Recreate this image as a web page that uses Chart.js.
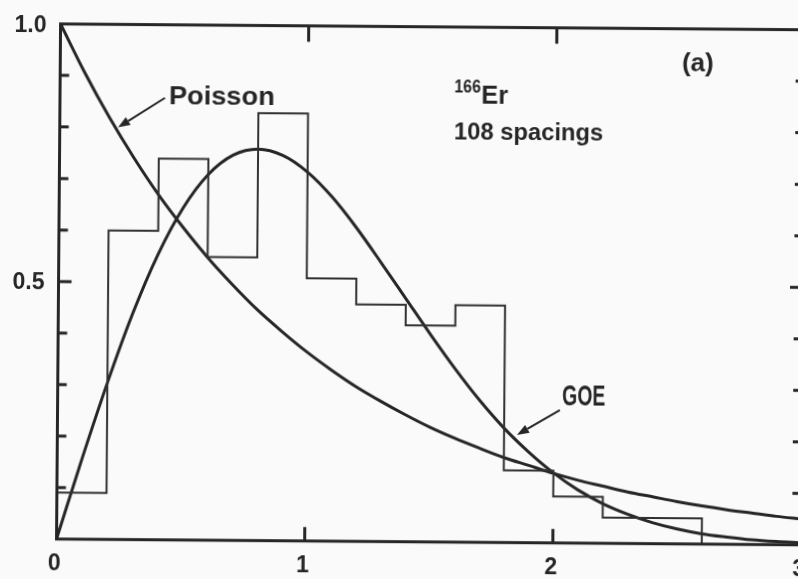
<!DOCTYPE html>
<html>
<head>
<meta charset="utf-8">
<script src="https://cdn.jsdelivr.net/npm/chart.js@4/dist/chart.umd.min.js"></script>
<style>
  html, body { margin: 0; padding: 0; background: #fafafa; width: 798px; height: 579px; overflow: hidden; }
  #wrap { position: absolute; left: 0; top: 0; width: 840px; height: 600px;
          transform: rotate(0.45deg); transform-origin: 399px 289.5px; filter: blur(0.4px); }
  canvas { display: block; }
</style>
</head>
<body>
<div id="wrap"><canvas id="c" width="840" height="600"></canvas></div>
<script>
// Nearest-neighbour spacing distribution, 166Er, 108 spacings
const binLeft   = [0, 0.2, 0.4, 0.6, 0.8, 1.0, 1.2, 1.4, 1.6, 1.8, 2.0, 2.2, 2.4];
const binWidth  = 0.2;
const binHeight = [0.09, 0.60, 0.74, 0.55, 0.83, 0.51, 0.46, 0.42, 0.46, 0.14, 0.09, 0.05, 0.05];

// Reference curves sampled along s
const sGrid = [0, 0.1, 0.2, 0.3, 0.4, 0.5, 0.6, 0.7, 0.8, 0.9, 1.0, 1.1, 1.2, 1.3, 1.4, 1.5,
               1.6, 1.7, 1.8, 1.9, 2.0, 2.1, 2.2, 2.3, 2.4, 2.5, 2.6, 2.7, 2.8, 2.9, 3.0];
const poisson = [1.000, 0.905, 0.819, 0.741, 0.670, 0.607, 0.549, 0.497, 0.449, 0.407, 0.368,
                 0.333, 0.301, 0.273, 0.247, 0.223, 0.202, 0.183, 0.165, 0.150, 0.135,
                 0.122, 0.111, 0.100, 0.091, 0.082, 0.074, 0.067, 0.061, 0.055, 0.050];
const goe = [0.000, 0.156, 0.304, 0.439, 0.554, 0.645, 0.710, 0.748, 0.760, 0.748, 0.716,
             0.668, 0.608, 0.541, 0.472, 0.403, 0.337, 0.276, 0.222, 0.176, 0.136,
             0.103, 0.077, 0.057, 0.041, 0.029, 0.020, 0.014, 0.009, 0.006, 0.004];

// Axis ticks and labels
const xTicks = [1, 2];
const xLabels = [0, 1, 2, 3];
const yTicks = [0.1, 0.2, 0.3, 0.4, 0.5, 0.6, 0.7, 0.8, 0.9];
const yLabels = [0.5, 1.0];

// Histogram outline: each bin's top runs from its left edge, then drop to zero at the end
const histPoints = binLeft.map((x, i) => ({ x: x, y: binHeight[i] }));
histPoints.push({ x: binLeft[binLeft.length - 1] + binWidth, y: binHeight[binHeight.length - 1] });
histPoints.push({ x: binLeft[binLeft.length - 1] + binWidth, y: 0 });

const poissonPoints = sGrid.map((s, i) => ({ x: s, y: poisson[i] }));
const goePoints = sGrid.map((s, i) => ({ x: s, y: goe[i] }));

const INK = '#262626';
const FONT = '"Liberation Sans", Arial, sans-serif';

// Text annotations in data units: left edge, baseline, cap height and ink width in px
const notes = [
  { text: 'Poisson',      s: 0.443, v: 0.845, cap: 18.5, w: 104 },
  { text: '166',          s: 1.592, v: 0.874, cap: 12.5, w: 26 },
  { text: 'Er',           s: 1.702, v: 0.851, cap: 18,   w: 26 },
  { text: '108 spacings', s: 1.593, v: 0.782, cap: 17,   w: 148 },
  { text: '(a)',          s: 2.509, v: 0.917, cap: 19,   w: 30 },
  { text: 'GOE',          s: 2.036, v: 0.268, cap: 21,   w: 42 }
];
// Arrows: from (s0, v0) to tip (s1, v1)
const arrows = [
  { s0: 0.423, v0: 0.858, s1: 0.235, v1: 0.800 },
  { s0: 2.024, v0: 0.258, s1: 1.852, v1: 0.209 }
];

function fitText(ctx, txt, x, baseline, cap, inkW) {
  const size = cap / 0.716;
  ctx.font = 'bold ' + size.toFixed(2) + 'px ' + FONT;
  ctx.textAlign = 'left';
  ctx.textBaseline = 'alphabetic';
  const m = ctx.measureText(txt);
  const w = m.actualBoundingBoxLeft + m.actualBoundingBoxRight;
  const sx = inkW ? inkW / w : 1;
  ctx.save();
  ctx.translate(x, baseline);
  ctx.scale(sx, 1);
  ctx.fillText(txt, m.actualBoundingBoxLeft, 0);
  ctx.restore();
}

const framePlugin = {
  id: 'frame',
  afterDatasetsDraw(chart) {
    const ctx = chart.ctx;
    const a = chart.chartArea;
    const xs = chart.scales.x, ys = chart.scales.y;
    ctx.save();
    ctx.strokeStyle = INK;
    ctx.fillStyle = INK;
    ctx.lineWidth = 3;
    ctx.lineCap = 'butt';
    ctx.strokeRect(a.left, a.top, a.right - a.left, a.bottom - a.top);

    // inward ticks
    ctx.beginPath();
    xTicks.forEach(t => {
      const px = xs.getPixelForValue(t);
      ctx.moveTo(px, a.bottom); ctx.lineTo(px, a.bottom - 14);
      ctx.moveTo(px, a.top);    ctx.lineTo(px, a.top + 16);
    });
    yTicks.forEach(t => {
      const py = ys.getPixelForValue(t);
      const len = Math.abs(t - 0.5) < 1e-6 ? 13 : 9;
      ctx.moveTo(a.left, py);  ctx.lineTo(a.left + len, py);
      ctx.moveTo(a.right, py); ctx.lineTo(a.right - len, py);
    });
    ctx.stroke();

    // tick labels
    ctx.font = 'bold 23px ' + FONT;
    ctx.textBaseline = 'alphabetic';
    const capH = 23 * 0.716;
    ctx.textAlign = 'right';
    yLabels.forEach(t => {
      const py = ys.getPixelForValue(t);
      ctx.fillText(t.toFixed(1), a.left - 14, py + capH / 2);
    });
    ctx.textAlign = 'center';
    xLabels.forEach(t => {
      const px = xs.getPixelForValue(t);
      ctx.fillText(String(t), px - 2, a.bottom + 15 + capH);
    });

    // annotations
    notes.forEach(n => {
      fitText(ctx, n.text, xs.getPixelForValue(n.s), ys.getPixelForValue(n.v), n.cap, n.w);
    });

    // arrows
    arrows.forEach(r => {
      const x0 = xs.getPixelForValue(r.s0), y0 = ys.getPixelForValue(r.v0);
      const x1 = xs.getPixelForValue(r.s1), y1 = ys.getPixelForValue(r.v1);
      const ang = Math.atan2(y1 - y0, x1 - x0);
      const hl = 12, hw = 4.5;
      const bx = x1 - hl * Math.cos(ang), by = y1 - hl * Math.sin(ang);
      ctx.lineWidth = 2;
      ctx.beginPath();
      ctx.moveTo(x0, y0); ctx.lineTo(bx, by);
      ctx.stroke();
      ctx.beginPath();
      ctx.moveTo(x1, y1);
      ctx.lineTo(bx + hw * Math.sin(ang), by - hw * Math.cos(ang));
      ctx.lineTo(bx - hw * Math.sin(ang), by + hw * Math.cos(ang));
      ctx.closePath();
      ctx.fill();
    });
    ctx.restore();
  }
};

new Chart(document.getElementById('c'), {
  type: 'line',
  data: {
    datasets: [
      { label: 'Er166', data: histPoints, stepped: 'before', borderColor: '#303030',
        borderWidth: 2, pointRadius: 0, fill: false },
      { label: 'Poisson', data: poissonPoints, borderColor: INK, borderWidth: 3,
        pointRadius: 0, cubicInterpolationMode: 'monotone', fill: false },
      { label: 'GOE', data: goePoints, borderColor: INK, borderWidth: 3,
        pointRadius: 0, cubicInterpolationMode: 'monotone', fill: false }
    ]
  },
  options: {
    responsive: false,
    animation: false,
    devicePixelRatio: 1,
    layout: { padding: { left: 58.5, top: 26.6, right: 37, bottom: 58.3 } },
    plugins: { legend: { display: false }, tooltip: { enabled: false } },
    scales: {
      x: { type: 'linear', min: 0, max: 3, display: false },
      y: { type: 'linear', min: 0, max: 1, display: false }
    }
  },
  plugins: [framePlugin]
});
</script>
</body>
</html>
